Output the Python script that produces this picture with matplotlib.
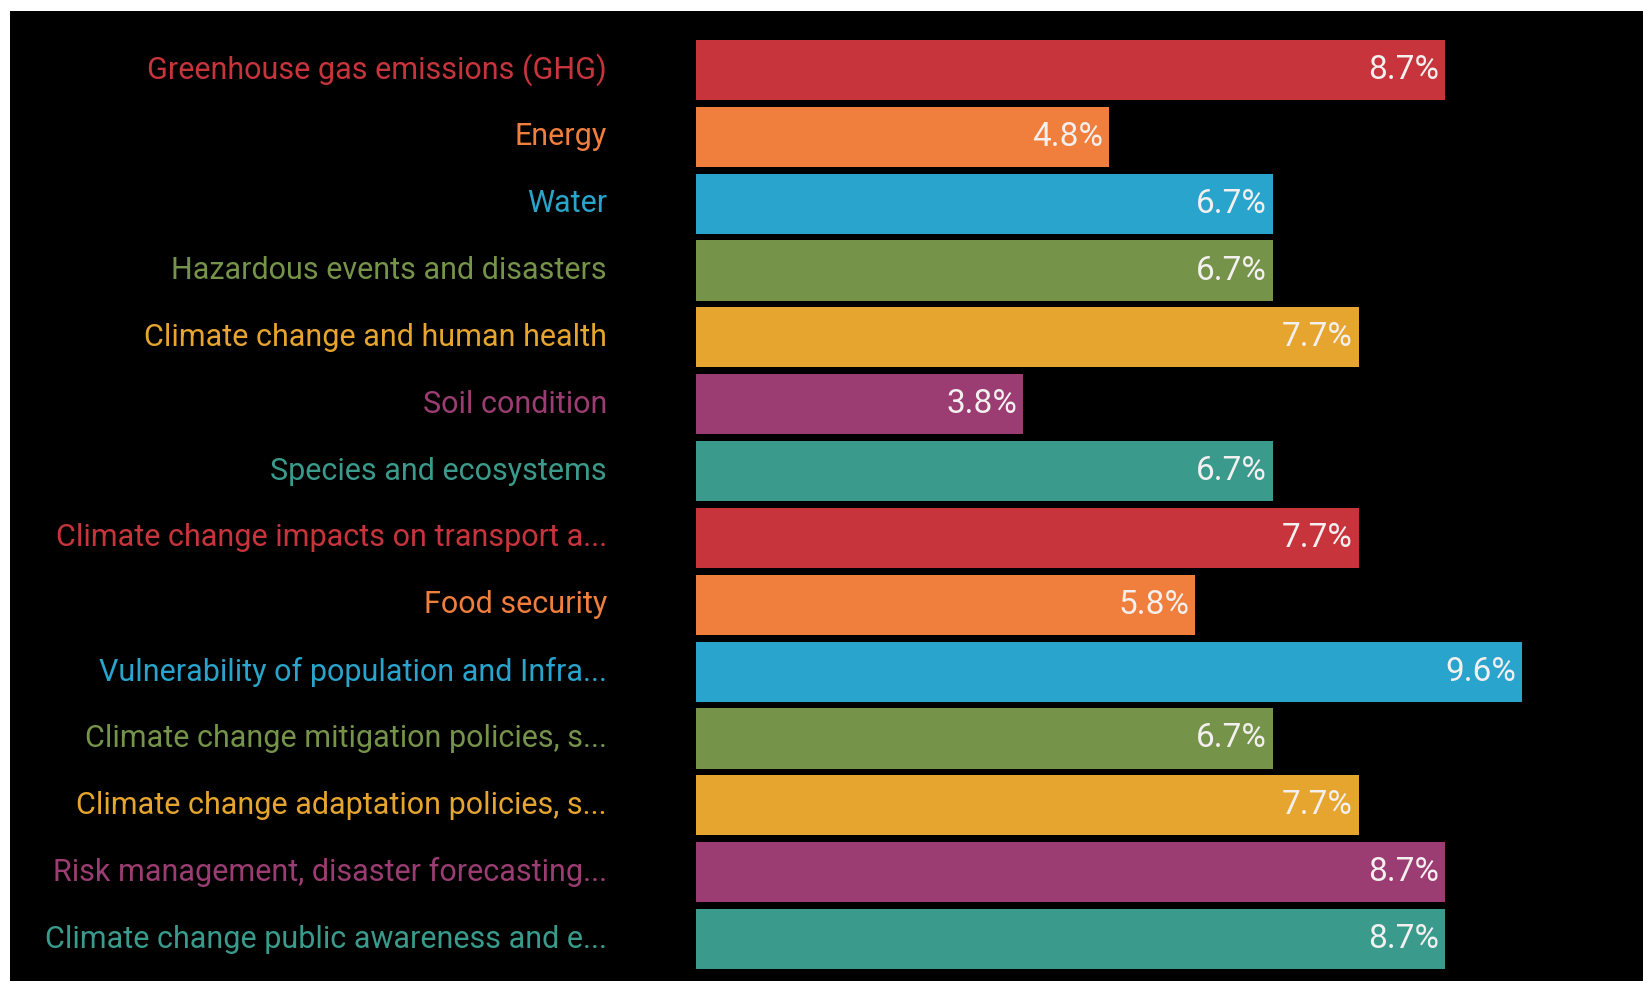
import matplotlib.pyplot as plt
from matplotlib.patches import Rectangle

plt.rcParams['font.family'] = ['Roboto', 'DejaVu Sans']

# Data
topics = ["Greenhouse gas emissions (GHG)", "Energy", "Water",
          "Hazardous events and disasters", "Climate change and human health",
          "Soil condition", "Species and ecosystems",
          "Climate change impacts on transport a...", "Food security",
          "Vulnerability of population and Infra...",
          "Climate change mitigation policies, s...",
          "Climate change adaptation policies, s...",
          "Risk management, disaster forecasting...",
          "Climate change public awareness and e..."]
shares = [8.7, 4.8, 6.7, 6.7, 7.7, 3.8, 6.7, 7.7, 5.8, 9.6, 6.7, 7.7, 8.7, 8.7]

palette = ["#C8343C", "#F07E3C", "#29A4CC", "#76934A", "#E6A52E", "#9B3D72", "#3A9B8D"]
colors = [palette[i % len(palette)] for i in range(len(topics))]

W, H = 1643, 981
fig = plt.figure(figsize=(W / 100, H / 100), dpi=100, facecolor="white")
# black panel (white margin at top and left)
fig.patches.append(Rectangle((10 / W, 0), 1, 1 - 11 / H, transform=fig.transFigure,
                             facecolor="black", edgecolor="none", zorder=-10))

ax = fig.add_axes([696 / W, 0, 1 - 696 / W, 1 - 11 / H])
ax.patch.set_alpha(0)

y = list(range(len(topics)))
ax.barh(y, shares, height=0.9, color=colors)

for i, v in enumerate(shares):
    ax.text(v - 0.07, i, f"{v}%", ha="right", va="center", color="#F4F0F0",
            fontsize=24)

ax.set_xlim(0, 11.0)
pitch = 66.85
ax.set_ylim((H - 70) / pitch, (11 - 70) / pitch)
ax.set_yticks(y)
ax.set_yticklabels(topics, fontsize=22)
for lab, c in zip(ax.get_yticklabels(), colors):
    lab.set_color(c)
    lab.set_verticalalignment("center")
ax.tick_params(axis="y", length=0, pad=64)
ax.set_xticks([])
for s in ax.spines.values():
    s.set_visible(False)

fig.savefig("out.png", dpi=100, facecolor="white")
